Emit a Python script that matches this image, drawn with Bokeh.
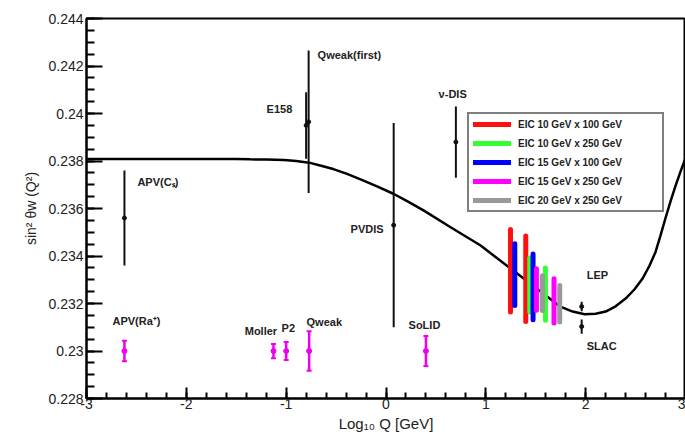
from bokeh.plotting import figure
from bokeh.models import (Label, Legend, LegendItem, SingleIntervalTicker,
                          CustomJSTickFormatter, ColumnDataSource)
from bokeh.embed import file_html
from bokeh.resources import INLINE

# ---------------- data ----------------
curve_x = [-3.0, -2.0, -1.5, -1.36, -1.2, -1.02, -0.9, -0.77, -0.65, -0.52, -0.39, -0.255,
           -0.09, 0.079, 0.23, 0.38, 0.647, 0.948, 1.248, 1.51, 1.74, 1.87, 1.99, 2.1,
           2.2, 2.3, 2.4, 2.49, 2.57, 2.64, 2.7, 2.75, 2.8, 2.85, 2.9, 2.95, 3.0]
curve_y = [0.23808, 0.23808, 0.23808, 0.23807, 0.23806, 0.23804, 0.238, 0.23793, 0.2378,
           0.23765, 0.23746, 0.23723, 0.23693, 0.23661, 0.23627, 0.23591, 0.23521, 0.23444,
           0.23347, 0.23263, 0.23188, 0.23166, 0.23155, 0.23157, 0.23166, 0.23188, 0.23221,
           0.2326, 0.23305, 0.2336, 0.23417, 0.23487, 0.2356, 0.2363, 0.23695, 0.23755, 0.23812]

meas_names = ["APV(Cs)", "E158", "Qweak(first)", "PVDIS", "nu-DIS", "LEP", "SLAC"]
meas_x = [-2.62, -0.80, -0.775, 0.077, 0.70, 1.96, 1.96]
meas_y = [0.2356, 0.2395, 0.23965, 0.2353, 0.2388, 0.23187, 0.23103]
meas_err = [0.0020, 0.0014, 0.0030, 0.0043, 0.0015, 0.0002, 0.0003]

future_names = ["APV(Ra+)", "Moller", "P2", "Qweak", "SoLID"]
future_x = [-2.62, -1.127, -1.0, -0.77, 0.40]
future_y = [0.230, 0.230, 0.230, 0.230, 0.230]
future_err = [0.00043, 0.0003, 0.00038, 0.00083, 0.00063]

eic_configs = ["EIC 10 GeV x 100 GeV", "EIC 10 GeV x 250 GeV", "EIC 15 GeV x 100 GeV",
               "EIC 15 GeV x 250 GeV", "EIC 20 GeV x 250 GeV"]
eic_colors = ["#ff1010", "#33ff33", "#0000ff", "#ff00ff", "#999999"]
eic_cfg = [0, 2, 0, 1, 2, 3, 4, 1, 3, 4]
eic_x = [1.247, 1.29, 1.40, 1.44, 1.473, 1.507, 1.567, 1.597, 1.683, 1.74]
eic_y = [0.23338, 0.23322, 0.23304, 0.23278, 0.2327, 0.23259, 0.23244, 0.2324, 0.23211, 0.23199]
eic_err = [0.00174, 0.0013, 0.0018, 0.00114, 0.00138, 0.00087, 0.00073, 0.0011, 0.00093, 0.00077]

x_ticks_interval = 1
y_ticks_interval = 0.002

# text annotations (label, x, y in data units)
ann_text = ["APV(Cₛ)", "APV(Ra⁺)", "E158", "Qweak(first)", "ν-DIS", "PVDIS",
            "Moller", "P2", "Qweak", "SoLID", "LEP", "SLAC"]
ann_x = [-2.49, -2.74, -1.196, -0.685, 0.527, -0.355, -1.415, -1.046, -0.796, 0.226, 2.01, 2.01]
ann_y = [0.23711, 0.23125, 0.2402, 0.24246, 0.24083, 0.23514, 0.23083, 0.23096, 0.23121,
         0.23108, 0.23322, 0.2302]

FONT = "Liberation Sans"
TXT = "#222222"

p = figure(width=685, height=434, x_range=(-3, 3), y_range=(0.228, 0.244),
           output_backend="svg", toolbar_location=None,
           min_border_left=86, min_border_right=0, min_border_top=18, min_border_bottom=33,
           background_fill_color="white", border_fill_color="white")
p.xgrid.visible = False
p.ygrid.visible = False
p.outline_line_color = "black"
p.outline_line_width = 2

# axes
p.xaxis.ticker = SingleIntervalTicker(interval=x_ticks_interval, num_minor_ticks=5)
p.yaxis.ticker = SingleIntervalTicker(interval=y_ticks_interval, num_minor_ticks=4)
p.yaxis.formatter = CustomJSTickFormatter(
    code="var s = tick.toFixed(3); s = s.replace(/0+$/, ''); return s.replace(/\\.$/, '');")
p.xaxis.formatter = CustomJSTickFormatter(code="return Math.round(tick).toString();")
for ax in (p.xaxis, p.yaxis):
    ax.axis_line_width = 2
    ax.axis_line_color = "black"
    ax.major_tick_line_width = 2
    ax.minor_tick_line_width = 2
    ax.major_tick_out = 0
    ax.minor_tick_out = 0
    ax.major_label_text_font = FONT
    ax.major_label_text_font_size = "14px"
    ax.major_label_text_color = TXT
    ax.axis_label_text_font = FONT
    ax.axis_label_text_font_style = "normal"
    ax.axis_label_text_color = TXT
p.yaxis.major_tick_in = 16
p.yaxis.minor_tick_in = 8
p.yaxis.major_label_standoff = 3
p.yaxis.axis_label = "sin² θᴡ (Q²)"
p.yaxis.axis_label_text_font_size = "14px"
p.yaxis.axis_label_standoff = 6
p.xaxis.major_tick_in = 11
p.xaxis.minor_tick_in = 6
p.xaxis.major_label_standoff = 0
p.xaxis.axis_label = "Log₁₀ Q [GeV]"
p.xaxis.axis_label_text_font_size = "15px"
p.xaxis.axis_label_standoff = 3

# running curve
p.line(curve_x, curve_y, line_color="black", line_width=2.5)

# EIC projections
legend_items = []
for ci, (name, col) in enumerate(zip(eic_configs, eic_colors)):
    idx = [i for i, c in enumerate(eic_cfg) if c == ci]
    src = ColumnDataSource(dict(
        x=[eic_x[i] for i in idx],
        y0=[eic_y[i] - eic_err[i] for i in idx],
        y1=[eic_y[i] + eic_err[i] for i in idx]))
    r = p.segment(x0="x", y0="y0", x1="x", y1="y1", source=src, line_color=col,
                  line_width=5, line_cap="round")
    legend_items.append(LegendItem(label=name, renderers=[r]))

# existing measurements
ms = ColumnDataSource(dict(x=meas_x, y=meas_y,
                           y0=[y - e for y, e in zip(meas_y, meas_err)],
                           y1=[y + e for y, e in zip(meas_y, meas_err)]))
p.segment(x0="x", y0="y0", x1="x", y1="y1", source=ms, line_color="#111111", line_width=2)
p.scatter(x="x", y="y", source=ms, size=4, color="#111111")

# future projections
fs = ColumnDataSource(dict(x=future_x, y=future_y,
                           y0=[y - e for y, e in zip(future_y, future_err)],
                           y1=[y + e for y, e in zip(future_y, future_err)]))
p.segment(x0="x", y0="y0", x1="x", y1="y1", source=fs, line_color="#ee00ee", line_width=2.5)
p.scatter(x="x", y="y", source=fs, size=5, color="#ee00ee")
p.scatter(x="x", y="y0", source=fs, marker="dash", size=5, line_width=2, color="#ee00ee")
p.scatter(x="x", y="y1", source=fs, marker="dash", size=5, line_width=2, color="#ee00ee")

# point labels
for t, x, y in zip(ann_text, ann_x, ann_y):
    p.add_layout(Label(x=x, y=y, text=t, text_font=FONT, text_font_size="11px",
                       text_font_style="bold", text_color=TXT, text_baseline="middle",
                       text_align="left"))

legend = Legend(items=legend_items, location=(381, 186), orientation="vertical",
                border_line_color="black", border_line_width=2, background_fill_color="white",
                background_fill_alpha=1.0, padding=4, margin=0, spacing=7,
                glyph_width=38, glyph_height=12, label_height=12, label_width=140,
                label_standoff=7, label_text_font=FONT, label_text_font_size="10px",
                label_text_font_style="bold", label_text_color=TXT)
p.add_layout(legend, "center")

open("out.html", "w").write(file_html(p, INLINE))
